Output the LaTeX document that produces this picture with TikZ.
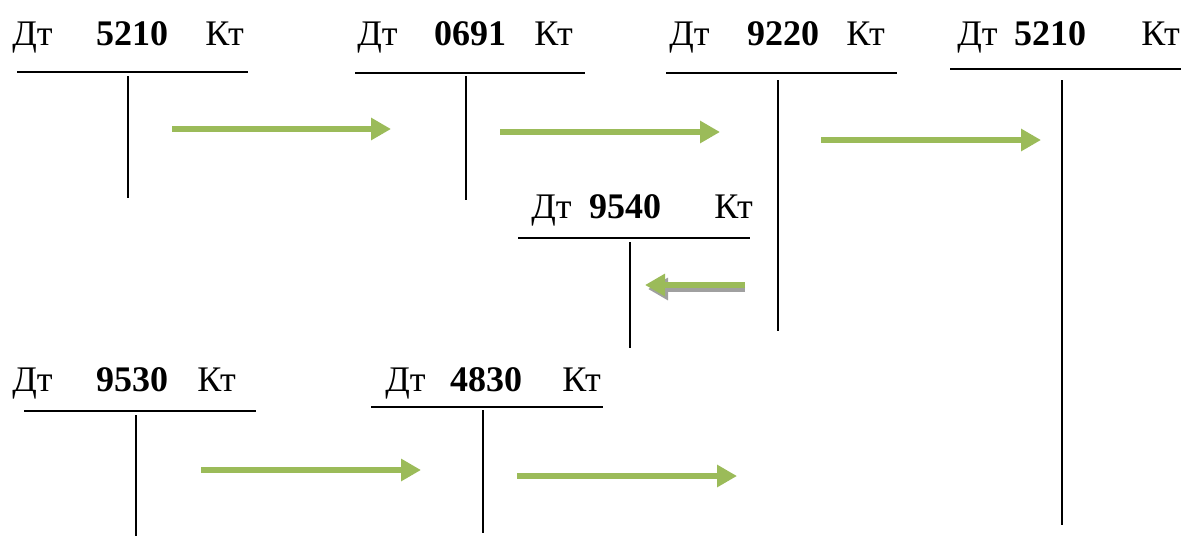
\documentclass[tikz,border=0pt]{standalone}
\usepackage{fontspec}
\setmainfont{Liberation Serif}
\usetikzlibrary{arrows.meta}
\tikzset{
  lbl/.style={inner sep=0pt, font=\fontsize{27}{32}\selectfont},
  num/.style={inner sep=0pt, font=\fontsize{27}{32}\selectfont\bfseries},
  tline/.style={line width=1.3pt, black},
  garrow/.style={line width=4.6pt, draw={rgb,255:red,155;green,187;blue,89}, -{Triangle[length=15pt,width=16pt]}},
  sarrow/.style={line width=4.6pt, draw={rgb,255:red,160;green,160;blue,160}, -{Triangle[length=15pt,width=16pt]}},
}
\begin{document}
\begin{tikzpicture}[x=0.75pt,y=-0.75pt]
\useasboundingbox (0,0) rectangle (1181,536);
% account 1: 5210
\node[lbl,anchor=base west] (dt1) at (12,45) {Дт};
\node[num,anchor=base] (n1) at (132,45) {5210};
\node[lbl,anchor=base east] (kt1) at (244,45) {Кт};
\coordinate (h1a) at (17,72); \coordinate (h1b) at (248,72);
\coordinate (v1a) at (128,76); \coordinate (v1b) at (128,198);
\draw[tline] (h1a) -- (h1b); \draw[tline] (v1a) -- (v1b);
% account 2: 0691
\node[lbl,anchor=base west] (dt2) at (357,45) {Дт};
\node[num,anchor=base] (n2) at (470,45) {0691};
\node[lbl,anchor=base east] (kt2) at (573,45) {Кт};
\coordinate (h2a) at (355,73); \coordinate (h2b) at (585,73);
\coordinate (v2a) at (466,76); \coordinate (v2b) at (466,200);
\draw[tline] (h2a) -- (h2b); \draw[tline] (v2a) -- (v2b);
% account 3: 9220
\node[lbl,anchor=base west] (dt3) at (669,45) {Дт};
\node[num,anchor=base] (n3) at (783,45) {9220};
\node[lbl,anchor=base east] (kt3) at (885,45) {Кт};
\coordinate (h3a) at (666,73); \coordinate (h3b) at (897,73);
\coordinate (v3a) at (778,80); \coordinate (v3b) at (778,331);
\draw[tline] (h3a) -- (h3b); \draw[tline] (v3a) -- (v3b);
% account 4: 5210
\node[lbl,anchor=base west] (dt4) at (957,45) {Дт};
\node[num,anchor=base] (n4) at (1050,45) {5210};
\node[lbl,anchor=base east] (kt4) at (1180,45) {Кт};
\coordinate (h4a) at (950,69); \coordinate (h4b) at (1181,69);
\coordinate (v4a) at (1062,80); \coordinate (v4b) at (1062,525);
\draw[tline] (h4a) -- (h4b); \draw[tline] (v4a) -- (v4b);
% account 5: 9540
\node[lbl,anchor=base west] (dt5) at (531,218) {Дт};
\node[num,anchor=base] (n5) at (625,218) {9540};
\node[lbl,anchor=base east] (kt5) at (753,218) {Кт};
\coordinate (h5a) at (518,238); \coordinate (h5b) at (750,238);
\coordinate (v5a) at (630,242); \coordinate (v5b) at (630,348);
\draw[tline] (h5a) -- (h5b); \draw[tline] (v5a) -- (v5b);
% account 6: 9530
\node[lbl,anchor=base west] (dt6) at (12,391) {Дт};
\node[num,anchor=base] (n6) at (132,391) {9530};
\node[lbl,anchor=base east] (kt6) at (236,391) {Кт};
\coordinate (h6a) at (24,411); \coordinate (h6b) at (256,411);
\coordinate (v6a) at (136,415); \coordinate (v6b) at (136,536);
\draw[tline] (h6a) -- (h6b); \draw[tline] (v6a) -- (v6b);
% account 7: 4830
\node[lbl,anchor=base west] (dt7) at (385,391) {Дт};
\node[num,anchor=base] (n7) at (486,391) {4830};
\node[lbl,anchor=base east] (kt7) at (601,391) {Кт};
\coordinate (h7a) at (371,407); \coordinate (h7b) at (603,407);
\coordinate (v7a) at (483,410); \coordinate (v7b) at (483,533);
\draw[tline] (h7a) -- (h7b); \draw[tline] (v7a) -- (v7b);
% arrows
\coordinate (a1s) at (172,129); \coordinate (a1e) at (391,129);
\coordinate (a2s) at (500,132); \coordinate (a2e) at (720,132);
\coordinate (a3s) at (821,140); \coordinate (a3e) at (1041,140);
\coordinate (a4s) at (745,285); \coordinate (a4e) at (645,285);
\coordinate (a4ss) at (745,289); \coordinate (a4se) at (648,289);
\coordinate (a5s) at (201,470); \coordinate (a5e) at (421,470);
\coordinate (a6s) at (517,476); \coordinate (a6e) at (737,476);
\draw[garrow] (a1s) -- (a1e);
\draw[garrow] (a2s) -- (a2e);
\draw[garrow] (a3s) -- (a3e);
\draw[sarrow] (a4ss) -- (a4se);
\draw[garrow] (a4s) -- (a4e);
\draw[garrow] (a5s) -- (a5e);
\draw[garrow] (a6s) -- (a6e);
\end{tikzpicture}
\end{document}
